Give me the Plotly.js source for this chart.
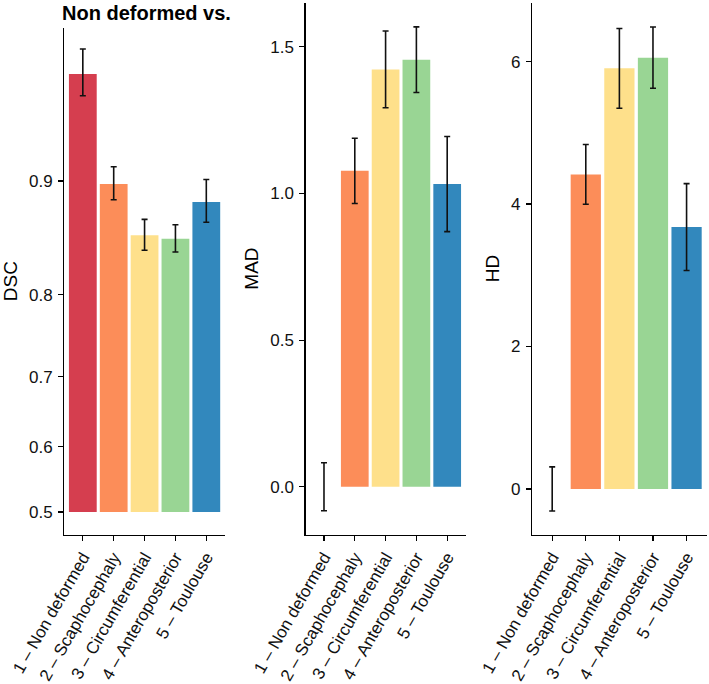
<!DOCTYPE html>
<html>
<head>
<meta charset="utf-8">
<script src="https://cdn.plot.ly/plotly-3.0.1.min.js"></script>
<style>
  body { margin: 0; background: white; }
  #myDiv { width: 709px; height: 684px; }
</style>
</head>
<body>
<div id="myDiv"></div>
<script>
var groups = ["1 \u2013 Non deformed", "2 \u2013 Scaphocephaly", "3 \u2013 Circumferential", "4 \u2013 Anteroposterior", "5 \u2013 Toulouse"]
var barColours = ["#D53E4F", "#FC8D59", "#FEE08B", "#99D594", "#3288BD"]

var dscMean = [0.955, 0.898, 0.858, 0.855, 0.885]
var dscErr = [0.0085, 0.0113, 0.0134, 0.0120, 0.0160]
var madMean = [0, 1.077, 1.423, 1.456, 1.032]
var madErr = [0.082, 0.111, 0.131, 0.112, 0.162]
var hdMean = [0, 4.417, 5.906, 6.056, 3.677]
var hdErr = [0.31, 0.42, 0.56, 0.43, 0.61]

var dscTicks = [0.5, 0.6, 0.7, 0.8, 0.9]
var dscTickText = ["0.5", "0.6", "0.7", "0.8", "0.9"]
var madTicks = [0, 0.5, 1, 1.5]
var madTickText = ["0.0", "0.5", "1.0", "1.5"]
var hdTicks = [0, 2, 4, 6]

// DSC axis is on a probit scale in the original, so map values through qnorm (Acklam)
function qnorm(p){
	var a=[-3.969683028665376e+01,2.209460984245205e+02,-2.759285104469687e+02,1.383577518672690e+02,-3.066479806614716e+01,2.506628277459239e+00]
	var b=[-5.447609879822406e+01,1.615858368580409e+02,-1.556989798598866e+02,6.680131188771972e+01,-1.328068155288572e+01]
	var c=[-7.784894002430293e-03,-3.223964580411365e-01,-2.400758277161838e+00,-2.549671010229528e+00,4.374664141464968e+00,2.938163982698783e+00]
	var d=[7.784695709041462e-03,3.224671290700398e-01,2.445134137142996e+00,3.754408661907416e+00]
	var pl=0.02425, q, r
	if (p<pl){
		q=Math.sqrt(-2*Math.log(p))
		return (((((c[0]*q+c[1])*q+c[2])*q+c[3])*q+c[4])*q+c[5])/((((d[0]*q+d[1])*q+d[2])*q+d[3])*q+1)
	}
	if (p<=1-pl){
		q=p-0.5; r=q*q
		return (((((a[0]*r+a[1])*r+a[2])*r+a[3])*r+a[4])*r+a[5])*q/(((((b[0]*r+b[1])*r+b[2])*r+b[3])*r+b[4])*r+1)
	}
	q=Math.sqrt(-2*Math.log(1-p))
	return -(((((c[0]*q+c[1])*q+c[2])*q+c[3])*q+c[4])*q+c[5])/((((d[0]*q+d[1])*q+d[2])*q+d[3])*q+1)
}

var dscY = dscMean.map(qnorm)
var dscUp = dscMean.map(function(m,i){ return qnorm(m+dscErr[i])-qnorm(m) })
var dscDown = dscMean.map(function(m,i){ return qnorm(m)-qnorm(m-dscErr[i]) })

function barTrace(y, up, down, xa, ya){
	return {
		x: groups,
		y: y,
		type: 'bar',
		width: 0.9,
		xaxis: xa,
		yaxis: ya,
		marker: {color: barColours, line: {width: 0}},
		error_y: {
			type: 'data',
			symmetric: false,
			array: up,
			arrayminus: down,
			color: '#111111',
			thickness: 1.6,
			width: 3
		},
		hoverinfo: 'skip',
		showlegend: false
	}
}

var dd1 = barTrace(dscY, dscUp, dscDown, 'x', 'y')
var dd2 = barTrace(madMean, madErr, madErr, 'x2', 'y2')
var dd3 = barTrace(hdMean, hdErr, hdErr, 'x3', 'y3')

var font = "Liberation Sans, Arial, Helvetica, sans-serif"

function xAxis(domain, anchor){
	return {
		domain: domain,
		anchor: anchor,
		type: 'category',
		range: [-0.6, 4.6],
		showline: true,
		linecolor: '#000000',
		linewidth: 1.2,
		ticks: 'outside',
		ticklen: 5,
		tickwidth: 1.2,
		tickcolor: '#000000',
		tickangle: -60,
		tickfont: {family: font, size: 17, color: '#111111'},
		showgrid: false,
		zeroline: false,
		fixedrange: true
	}
}

function yAxis(domain, anchor, range, title, standoff, tickvals, ticktext){
	return {
		domain: domain,
		anchor: anchor,
		range: range,
		tickmode: 'array',
		tickvals: tickvals,
		ticktext: ticktext,
		showline: true,
		linecolor: '#000000',
		linewidth: 1.2,
		ticks: 'outside',
		ticklen: 5,
		tickwidth: 1.2,
		tickcolor: '#000000',
		ticklabelstandoff: 2,
		tickfont: {family: font, size: 17, color: '#111111'},
		showgrid: false,
		zeroline: false,
		fixedrange: true,
		title: {text: title, standoff: standoff, font: {family: font, size: 19, color: '#000000'}}
	}
}

var layout = {
	width: 709,
	height: 684,
	margin: {l: 0, r: 0, t: 0, b: 0},
	paper_bgcolor: 'white',
	plot_bgcolor: 'white',
	bargap: 0.1,
	xaxis: xAxis([0.0907, 0.3171], 'y'),
	yaxis: yAxis([0.2185, 0.9595], 'x', [-0.087, 1.875], 'DSC', 9, dscTicks.map(qnorm), dscTickText),
	xaxis2: xAxis([0.4309, 0.6568], 'y2'),
	yaxis2: yAxis([0.2185, 0.9963], 'x2', [-0.163, 1.651], 'MAD', 6, madTicks, madTickText),
	xaxis3: xAxis([0.7504, 0.9968], 'y3'),
	yaxis3: yAxis([0.2185, 0.9963], 'x3', [-0.64, 6.83], 'HD', 6, hdTicks, hdTicks.map(String)),
	annotations: [{
		text: '<b>Non deformed vs.</b>',
		xref: 'paper', yref: 'paper',
		x: 60/709, y: 1,
		xanchor: 'left', yanchor: 'top',
		showarrow: false,
		font: {family: font, size: 20, color: '#000000'}
	}]
}

var config = {staticPlot: true}

Plotly.newPlot('myDiv', [dd1, dd2, dd3], layout, config)
</script>
</body>
</html>
